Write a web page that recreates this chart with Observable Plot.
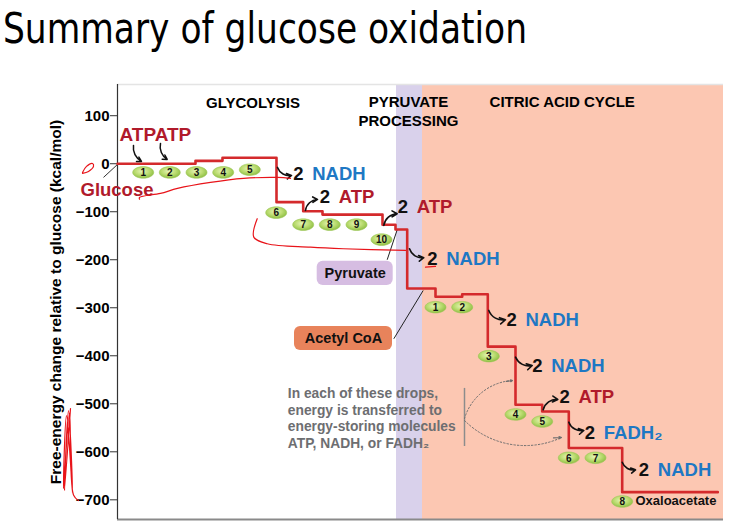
<!DOCTYPE html>
<html>
<head>
<meta charset="utf-8">
<script src="https://cdn.jsdelivr.net/npm/d3@7"></script>
<script src="https://cdn.jsdelivr.net/npm/@observablehq/plot@0.6"></script>
<style>
  html, body { margin: 0; padding: 0; background: #fff; }
  #wrap { position: relative; width: 733px; height: 529px; overflow: hidden; }
  #title { position: absolute; left: 3px; top: 3px; font-family: "DejaVu Sans", Tahoma, sans-serif; font-size: 43px; line-height: normal; color: #000; white-space: nowrap; transform-origin: 0 0; z-index: 2; }
  #chart { position: absolute; left: 0; top: 0; }
</style>
</head>
<body>
<div id="wrap">
  <div id="title">Summary of glucose oxidation</div>
  <div id="chart"></div>
</div>
<script>
// ---------- data ----------
const yTicks = [100, 0, -100, -200, -300, -400, -500, -600, -700];
const yLabel = "Free-energy change relative to glucose (kcal/mol)";

// step profile (x = reaction progress, y = kcal/mol)
const stepStart = [0, 78, 105, 159, 185.7, 205, 265, 278, 289.7, 318, 344.7, 370.3, 398, 424.7, 451.3, 504.7];
const stepLevel = [0, 6, 12.5, -80, -99, -106, -127, -137, -260, -277, -272, -381, -502, -516, -592, -684];
const stepEnd = 600.3;

// phases
const phaseNames = ["GLYCOLYSIS", "PYRUVATE\nPROCESSING", "CITRIC ACID CYCLE"];
const phaseStart = [0, 279, 305];
const phaseEnd = [279, 305, 606];
const phaseLabelX = [135.5, 291, 444.7];
const phaseLabelY = [128.3, 110.5, 130.4];

// numbered reaction badges
const glycStepX = [25.7, 52.3, 79, 105.7, 132.3, 158.7, 185.7, 212.3, 239, 264];
const glycStepY = [-18.1, -18.1, -18.1, -18.1, -12.4, -101.9, -126.9, -126.9, -126.9, -158.1];
const citricStepX = [318, 344.7, 371.3, 398, 424.7, 451.3, 478, 504.7];
const citricStepY = [-298.8, -298.8, -400.8, -522.3, -536.9, -612.5, -612.5, -703.5];

// energy products
const productCount = ["2", "2", "2", "2", "2", "2", "2", "2", "2"];
const productName = ["NADH", "ATP", "ATP", "NADH", "NADH", "NADH", "ATP", "FADH\u2082", "NADH"];
const productX = [175.7, 202.3, 280.3, 309.7, 389, 414.7, 442, 467.3, 521.3];
const productY = [-20.8, -69.6, -90.4, -197.9, -326.5, -422.3, -486.3, -561.3, -639];
// arrows from the step corner to the product label (down = curving down-right, up = curving up-right)
const arrowX1 = [160, 188, 266.3, 292, 371.3, 398, 425.7, 451.3, 504.7];
const arrowY1 = [-7.7, -97.3, -128.5, -177.1, -305.6, -402.9, -512.5, -538.3, -621.7];
const arrowX2 = [174, 200, 279.7, 306.3, 388, 414.7, 440.3, 466.3, 518];
const arrowY2 = [-24.4, -74.4, -104.2, -195.8, -325, -420.2, -491, -555.6, -637.5];
const arrowKind = ["down", "up", "up", "down", "down", "down", "up", "down", "down"];

// ATP invested
const investText = "ATPATP";
const investX = 2, investY = 61;
const investArrowX1 = [16, 43], investArrowY1 = [38.1, 42.3];
const investArrowX2 = [24, 49.7], investArrowY2 = [4.8, 9];

// named molecules
const moleculeBoxNames = ["Pyruvate", "Acetyl CoA"];
const moleculeBoxX1 = [199.7, 177];
const moleculeBoxX2 = [275.7, 275];
const moleculeBoxY1 = [-202.9, -339];
const moleculeBoxY2 = [-253.5, -389];
const moleculeBoxFill = ["#d6bde2", "#e8835b"];
const moleculeLinkX1 = [269.7, 276.3], moleculeLinkY1 = [-200, -364.6];
const moleculeLinkX2 = [279.7, 305.7], moleculeLinkY2 = [-137.5, -264];

const glucoseText = "Glucose", glucoseX = -37, glucoseY = -55.6;
const glucoseLink = [{x1: -14, y1: -28.5, x2: 0, y2: -1.5}];
const oxaloText = "Oxaloacetate", oxaloX = 518, oxaloY = -703;

const noteText = "In each of these drops,\nenergy is transferred to\nenergy-storing molecules\nATP, NADH, or FADH\u2082";
const noteX = 170.3, noteY = -529;
const noteBarX = 347, noteBarY1 = -468, noteBarY2 = -589;
const noteArrowX1 = [347, 347], noteArrowY1 = [-530.6, -534.8];
const noteArrowX2 = [395, 444], noteArrowY2 = [-451.5, -570.2];

// presenter's red pen marks
const penMarks = [
  [[-35,-18.1],[-31,-5.6],[-25,0.6],[-24,-5.6],[-29,-16],[-35,-20]],
  [[22,-74],[22,-70.2],[43,-61.9],[60,-51.5],[93,-39],[126,-30.6],[160,-28.5],[173,-30.6]],
  [[139.7,-114.6],[136.3,-152.9],[149.7,-166.7],[193,-173.8],[226,-177.1],[288,-180.6]],
  [[-47,-509.8],[-53,-680.6],[-49,-514],[-45,-684.8],[-51,-524.4],[-54,-676.5],[-48,-520],[-44,-690],[-39,-701.5]],
  [[308,-215.4],[318,-214]]
];

// ---------- derived tables ----------
const stepData = stepStart.map((x, i) => ({x, y: stepLevel[i]})).concat([{x: stepEnd, y: stepLevel[stepLevel.length - 1]}]);
const badges = glycStepX.map((x, i) => ({x, y: glycStepY[i], n: String(i + 1)}))
  .concat(citricStepX.map((x, i) => ({x, y: citricStepY[i], n: String(i + 1)})));
const products = productName.map((name, i) => ({name, count: productCount[i], x: productX[i], y: productY[i]}));
const prodArrows = arrowX1.map((x1, i) => ({x1, y1: arrowY1[i], x2: arrowX2[i], y2: arrowY2[i], kind: arrowKind[i]}));
const investArrows = investArrowX1.map((x1, i) => ({x1, y1: investArrowY1[i], x2: investArrowX2[i], y2: investArrowY2[i]}));
const phases = phaseNames.map((name, i) => ({name, x: phaseLabelX[i], y: phaseLabelY[i]}));
const boxes = moleculeBoxNames.map((name, i) => ({name, x1: moleculeBoxX1[i], x2: moleculeBoxX2[i], y1: moleculeBoxY1[i], y2: moleculeBoxY2[i], fill: moleculeBoxFill[i]}));
const boxLinks = moleculeLinkX1.map((x1, i) => ({x1, y1: moleculeLinkY1[i], x2: moleculeLinkX2[i], y2: moleculeLinkY2[i]}));
const noteArrows = noteArrowX1.map((x1, i) => ({x1, y1: noteArrowY1[i], x2: noteArrowX2[i], y2: noteArrowY2[i]}));
const penData = penMarks.flatMap((pts, k) => pts.map(([x, y]) => ({x, y, k})));

const RED = "#d42a2c", DARKRED = "#b01a2b", BLUE = "#1e78c4";

const ellipse = {
  draw(ctx) {
    const rx = 10.5, ry = 5.8, k = 0.5523;
    ctx.moveTo(rx, 0);
    ctx.bezierCurveTo(rx, ry * k, rx * k, ry, 0, ry);
    ctx.bezierCurveTo(-rx * k, ry, -rx, ry * k, -rx, 0);
    ctx.bezierCurveTo(-rx, -ry * k, -rx * k, -ry, 0, -ry);
    ctx.bezierCurveTo(rx * k, -ry, rx, -ry * k, rx, 0);
    ctx.closePath();
  }
};

const bold = {fontWeight: "bold"};
const arrowOpts = {x1: "x1", y1: "y1", x2: "x2", y2: "y2", stroke: "#111", strokeWidth: 1.6, headLength: 6};

const chart = Plot.plot({
  width: 733,
  height: 529,
  marginLeft: 117,
  marginRight: 10,
  marginTop: 84,
  marginBottom: 10,
  x: {domain: [0, 606], axis: null},
  y: {domain: [-741, 165], axis: null},
  style: {fontFamily: "'Liberation Sans', Arial, sans-serif", background: "transparent", overflow: "visible"},
  marks: [
    Plot.rect([phases[1]], {x1: () => phaseStart[1], x2: () => phaseEnd[1], fill: "#d9d1eb"}),
    Plot.rect([phases[2]], {x1: () => phaseStart[2], x2: () => phaseEnd[2], fill: "#fcc7b2"}),
    Plot.ruleY([165], {stroke: "#e4e4e4", strokeWidth: 1.5}),
    Plot.ruleY([-741], {stroke: "#8a8a8a", strokeWidth: 2}),
    Plot.ruleX([0], {stroke: "#333", strokeWidth: 1.2}),
    Plot.axisY({ticks: yTicks, tickSize: 7, tickPadding: 1, fontSize: 15, fontWeight: "bold", label: null, stroke: "#333"}),
    Plot.text([yLabel], {frameAnchor: "left", textAnchor: "middle", dx: -61, rotate: -90, text: d => d, fontSize: 15.5, ...bold, fill: "#000"}),
    // phase headers
    Plot.text(phases, {x: "x", y: "y", text: "name", fontSize: 15, ...bold, lineHeight: 1.27, fill: "#000"}),
    // note bar & dotted arrows
    Plot.ruleX([noteBarX], {y1: noteBarY1, y2: noteBarY2, stroke: "#8c8c8c", strokeWidth: 1.5}),
    Plot.arrow(noteArrows.slice(0, 1), {x1: "x1", y1: "y1", x2: "x2", y2: "y2", bend: 35, stroke: "#6e6e6e", strokeWidth: 1, strokeDasharray: "1.5,2", headLength: 0}),
    Plot.arrow(noteArrows.slice(1), {x1: "x1", y1: "y1", x2: "x2", y2: "y2", bend: -35, stroke: "#6e6e6e", strokeWidth: 1, strokeDasharray: "1.5,2", headLength: 0}),
    Plot.arrow(noteArrows.slice(0, 1), {x1: d => d.x2 - 6, y1: d => d.y2 - 2, x2: "x2", y2: "y2", stroke: "#6e6e6e", strokeWidth: 1.2, headLength: 9, headAngle: 50}),
    Plot.arrow(noteArrows.slice(1), {x1: d => d.x2 - 8, y1: d => d.y2 - 1, x2: "x2", y2: "y2", stroke: "#6e6e6e", strokeWidth: 1.2, headLength: 9, headAngle: 50}),
    // molecule boxes
    Plot.link(boxLinks, {x1: "x1", y1: "y1", x2: "x2", y2: "y2", stroke: "#222", strokeWidth: 1}),
    Plot.rect(boxes, {x1: "x1", x2: "x2", y1: "y1", y2: "y2", fill: "fill", rx: 6}),
    Plot.text(boxes, {x: d => (d.x1 + d.x2) / 2, y: d => (d.y1 + d.y2) / 2, text: "name", fontSize: 14.5, ...bold, fill: "#111"}),
    Plot.link(glucoseLink, {x1: "x1", y1: "y1", x2: "x2", y2: "y2", stroke: "#333", strokeWidth: 1}),
    // energy profile
    Plot.line(stepData, {x: "x", y: "y", curve: "step-after", stroke: RED, strokeWidth: 2.6}),
    // badges
    Plot.dot(badges, {x: "x", y: "y", symbol: ellipse, r: 5, fill: "url(#badgeGrad)", stroke: "#9cc655", strokeWidth: 0.6}),
    Plot.text(badges, {x: "x", y: "y", text: "n", fontSize: 10, ...bold, fill: "#111", dy: 0.5}),
    // arrows
    Plot.arrow(prodArrows.filter(d => d.kind === "down"), {...arrowOpts, bend: -40}),
    Plot.arrow(prodArrows.filter(d => d.kind === "up"), {...arrowOpts, bend: 40}),
    Plot.arrow(investArrows, {x1: "x1", y1: "y1", x2: "x2", y2: "y2", bend: -35, stroke: "#111", strokeWidth: 1.5, headLength: 5}),
    // product labels
    Plot.text(products, {x: "x", y: "y", text: "count", textAnchor: "start", fontSize: 18.5, ...bold, fill: "#111"}),
    Plot.text(products, {x: "x", y: "y", text: "name", textAnchor: "start", dx: 19, fontSize: 18.5, ...bold, fill: d => d.name === "ATP" ? DARKRED : BLUE}),
    Plot.text([investText], {x: investX, y: investY, text: d => d, textAnchor: "start", fontSize: 19, ...bold, fill: DARKRED}),
    Plot.text([glucoseText], {x: glucoseX, y: glucoseY, text: d => d, textAnchor: "start", fontSize: 18.5, ...bold, fill: DARKRED}),
    Plot.text([oxaloText], {x: oxaloX, y: oxaloY, text: d => d, textAnchor: "start", fontSize: 13, ...bold, fill: "#111"}),
    Plot.text([noteText], {x: noteX, y: noteY, text: d => d, textAnchor: "start", fontSize: 13.8, ...bold, lineHeight: 1.2, fill: "#6d6e71"}),
    // pen marks
    Plot.line(penData, {x: "x", y: "y", z: "k", curve: "catmull-rom", stroke: "#e8141a", strokeWidth: 1.2})
  ]
});

// gradient for the badges
const ns = "http://www.w3.org/2000/svg";
const defs = document.createElementNS(ns, "defs");
defs.innerHTML = '<radialGradient id="badgeGrad" cx="45%" cy="40%" r="60%"><stop offset="0%" stop-color="#e6f4b8"/><stop offset="55%" stop-color="#bcdd72"/><stop offset="100%" stop-color="#8fbf45"/></radialGradient>';
chart.insertBefore(defs, chart.firstChild);
document.getElementById("chart").appendChild(chart);

// fit title width
const t = document.getElementById("title");
const w = t.getBoundingClientRect().width;
t.style.transform = `scaleX(${524 / w})`;
</script>
</body>
</html>
